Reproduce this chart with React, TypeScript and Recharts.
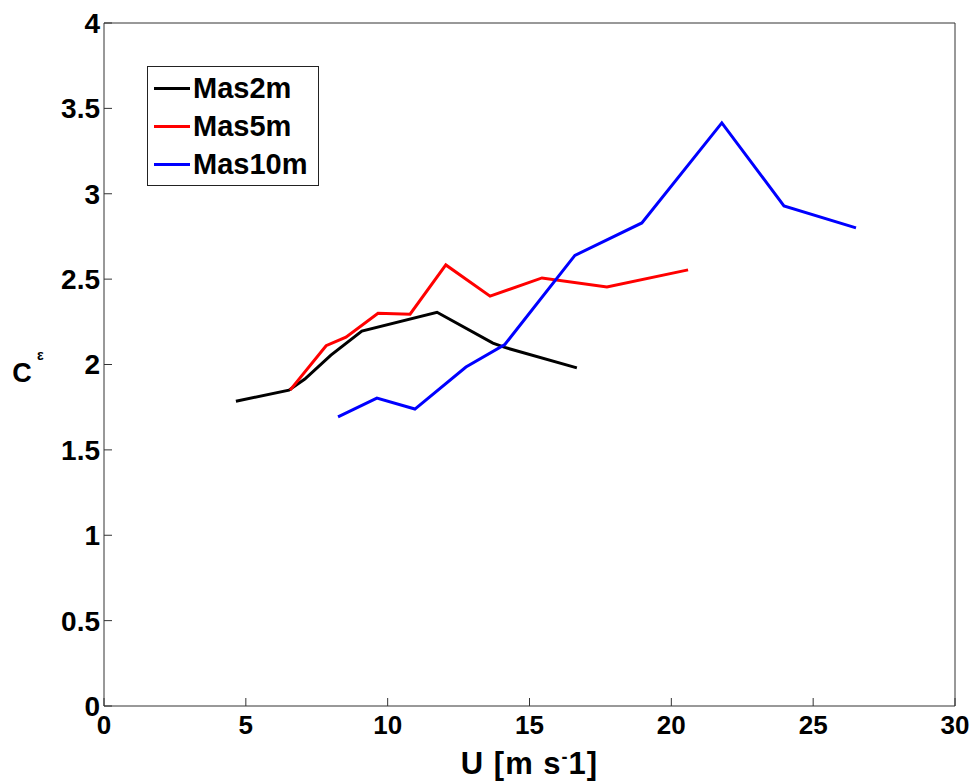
import React from 'react';
import { LineChart, Line, XAxis, YAxis, Label } from 'recharts';

// wind speed U [m/s] and C_eps for each mast height
const mas2mU = [4.65, 6.52, 7.08, 8.0, 9.09, 11.74, 13.71, 14.13, 16.67];
const mas2mC = [1.785, 1.85, 1.915, 2.055, 2.196, 2.306, 2.125, 2.1, 1.98];

const mas5mU = [6.56, 7.83, 8.53, 9.66, 10.79, 12.05, 13.61, 15.44, 17.73, 20.59];
const mas5mC = [1.85, 2.11, 2.16, 2.3, 2.295, 2.583, 2.4, 2.507, 2.454, 2.554];

const mas10mU = [8.25, 9.62, 10.96, 12.76, 14.13, 16.6, 18.96, 21.78, 23.97, 26.51];
const mas10mC = [1.693, 1.803, 1.739, 1.985, 2.117, 2.639, 2.829, 3.415, 2.929, 2.8];

const xTicks = [0, 5, 10, 15, 20, 25, 30];
const yTicks = [0, 0.5, 1, 1.5, 2, 2.5, 3, 3.5, 4];

const toRows = (u: number[], c: number[]) => u.map((v, i) => ({ u: v, c: c[i] }));

const series = [
  { name: 'Mas2m', color: '#000000', data: toRows(mas2mU, mas2mC) },
  { name: 'Mas5m', color: '#ff0000', data: toRows(mas5mU, mas5mC) },
  { name: 'Mas10m', color: '#0000ff', data: toRows(mas10mU, mas10mC) },
];

const FONT = '"Liberation Sans", Arial, Helvetica, sans-serif';
const AXIS = '#333333';
const TICK_LEN = 8;

// MATLAB style: tick marks point into the plot box
const BottomTick = (p: any) => (
  <g>
    <line x1={p.x} x2={p.x} y1={p.y - 10} y2={p.y - 10 - TICK_LEN} stroke={AXIS} />
    <text x={p.x} y={p.y} dy="0.71em" textAnchor="middle" fill="#000" fontSize={26} fontWeight="bold" fontFamily={FONT}>
      {p.payload.value}
    </text>
  </g>
);

const LeftTick = (p: any) => (
  <g>
    <line x1={p.x + 4} x2={p.x + 4 + TICK_LEN} y1={p.y} y2={p.y} stroke={AXIS} />
    <text x={p.x} y={p.y} dy="0.355em" textAnchor="end" fill="#000" fontSize={28} fontWeight="bold" fontFamily={FONT}>
      {p.payload.value}
    </text>
  </g>
);

const TopTick = (p: any) => <line x1={p.x} x2={p.x} y1={p.y} y2={p.y + TICK_LEN} stroke={AXIS} />;

const RightTick = (p: any) => <line x1={p.x} x2={p.x - TICK_LEN} y1={p.y} y2={p.y} stroke={AXIS} />;

const LegendBox = () => (
  <div
    style={{
      position: 'absolute',
      left: 147,
      top: 66,
      border: '1px solid #222',
      background: '#fff',
      width: 172,
      height: 120,
      boxSizing: 'border-box',
      paddingTop: 2,
      fontFamily: FONT,
      fontWeight: 'bold',
      fontSize: 29,
      color: '#000',
    }}
  >
    {series.map((s) => (
      <div key={s.name} style={{ display: 'flex', alignItems: 'center', height: 38 }}>
        <div style={{ width: 36, height: 3, background: s.color, marginLeft: 6, marginRight: 3 }} />
        <span>{s.name}</span>
      </div>
    ))}
  </div>
);

const YLabel = (props: any) => {
  const vb = props.viewBox || { x: 0, y: 0, width: 0, height: 0 };
  const cy = vb.y + vb.height / 2;
  return (
    <g fontFamily={FONT} fontWeight="bold" fill="#000">
      <text x={22} y={cy + 17} fontSize={27} textAnchor="middle">C</text>
      <text x={37} y={cy - 5} fontSize={14}>ε</text>
    </g>
  );
};

const XLabel = (props: any) => {
  const vb = props.viewBox || { x: 0, y: 0, width: 0, height: 0 };
  const cx = vb.x + vb.width / 2;
  return (
    <text
      x={cx}
      y={vb.y + 68}
      fontFamily={FONT}
      fontWeight="bold"
      fontSize={31}
      letterSpacing={1}
      textAnchor="middle"
      fill="#000"
    >
      U [m s<tspan dy={-11} fontSize={18}>-</tspan><tspan dy={11}>1]</tspan>
    </text>
  );
};

export default function App() {
  return (
    <div style={{ position: 'absolute', left: 0, top: 0, width: 971, height: 782, background: '#fff' }}>
      <LineChart width={971} height={782} margin={{ top: 13, right: 6, bottom: 36, left: 44 }}>
        <XAxis
          type="number"
          dataKey="u"
          domain={[0, 30]}
          ticks={xTicks}
          allowDataOverflow
          height={40}
          tickSize={0}
          tickMargin={10}
          axisLine={{ stroke: AXIS }}
          tickLine={false}
          tick={BottomTick}
          interval={0}
        >
          <Label content={<XLabel />} />
        </XAxis>
        <XAxis
          xAxisId="top"
          orientation="top"
          type="number"
          domain={[0, 30]}
          ticks={xTicks}
          height={10}
          tickSize={0}
          tickMargin={0}
          tick={TopTick}
          axisLine={{ stroke: AXIS }}
          tickLine={false}
          interval={0}
        />
        <YAxis
          type="number"
          domain={[0, 4]}
          ticks={yTicks}
          allowDataOverflow
          width={60}
          tickSize={0}
          tickMargin={4}
          axisLine={{ stroke: AXIS }}
          tickLine={false}
          tick={LeftTick}
          interval={0}
        >
          <Label content={<YLabel />} />
        </YAxis>
        <YAxis
          yAxisId="right"
          orientation="right"
          type="number"
          domain={[0, 4]}
          ticks={yTicks}
          width={10}
          tickSize={0}
          tickMargin={0}
          tick={RightTick}
          axisLine={{ stroke: AXIS }}
          tickLine={false}
          interval={0}
        />
        {series.map((s) => (
          <Line
            key={s.name}
            data={s.data}
            dataKey="c"
            name={s.name}
            type="linear"
            stroke={s.color}
            strokeWidth={3}
            dot={false}
            activeDot={false}
            isAnimationActive={false}
          />
        ))}
      </LineChart>
      <LegendBox />
    </div>
  );
}
